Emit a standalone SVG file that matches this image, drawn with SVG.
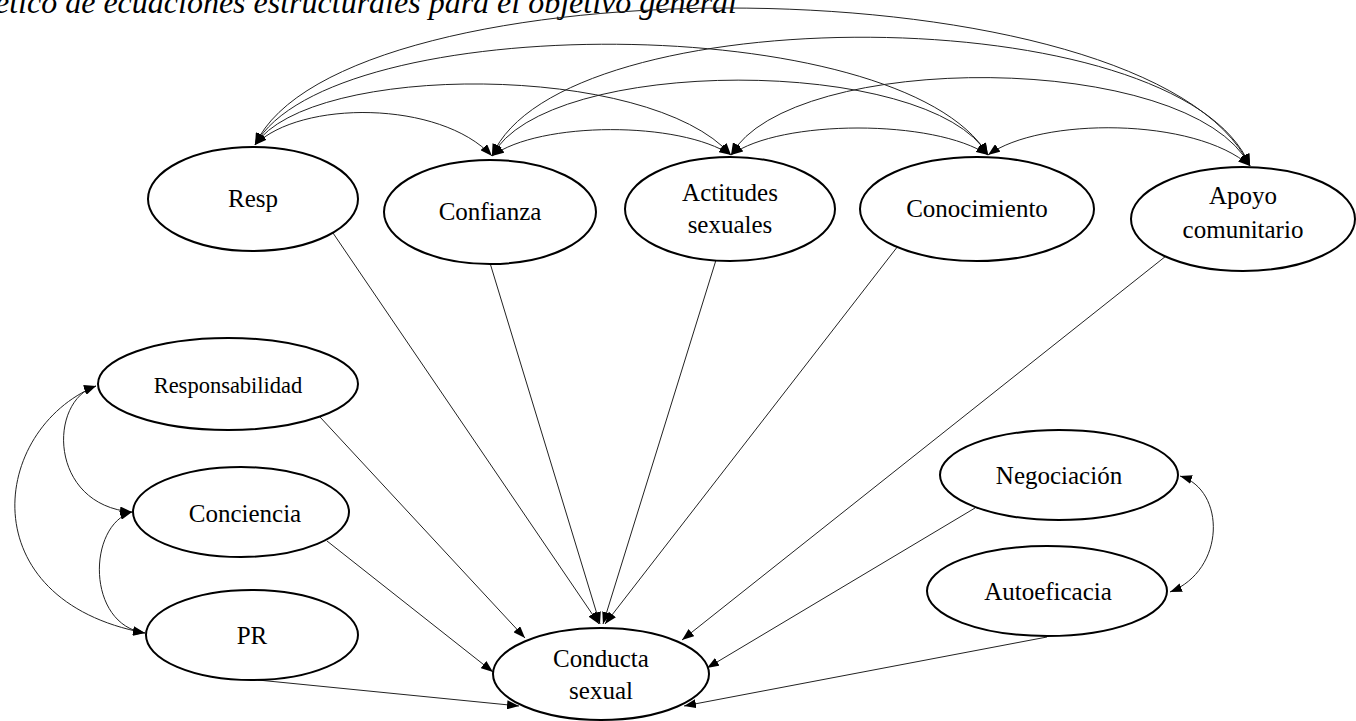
<svg xmlns="http://www.w3.org/2000/svg" width="1356" height="721" viewBox="0 0 1356 721">
  <style>
    .node ellipse { fill: #fff; stroke: #000; stroke-width: 2; }
    .lbl { font-family: "Liberation Serif", "Times New Roman", serif; font-size: 25px; text-anchor: middle; fill: #000; }
    .small { font-size: 22.5px; }
    .title { font-family: "Liberation Serif", "Times New Roman", serif; font-size: 32px; font-style: italic; fill: #000; }
    .edge { fill: none; stroke: #222; stroke-width: 1; }
    .one { marker-end: url(#ah); }
    .two { marker-start: url(#ah); marker-end: url(#ah); }
  </style>
  <defs>
    <marker id="ah" viewBox="0 0 12 9" refX="12" refY="4.5" markerWidth="12" markerHeight="9" markerUnits="userSpaceOnUse" orient="auto-start-reverse">
      <path d="M0,0 L12,4.5 L0,9 z" fill="#000"/>
    </marker>
  </defs>

  <text class="title" x="737" y="13" text-anchor="end">ético de ecuaciones estructurales para el objetivo general</text>

  <!-- connectors -->
  <g id="connectors">
    <!-- covariances between the upper latent variables -->
    <path class="edge two" d="M255,145 C300,100 440,100 492,156"/>
    <path class="edge two" d="M255,145 C310,62 650,62 731,155"/>
    <path class="edge two" d="M255,145 C330,9 900,9 988,155"/>
    <path class="edge two" d="M255,145 C340,-41 1150,-41 1250,166"/>
    <path class="edge two" d="M492,156 C540,121 680,121 731,155"/>
    <path class="edge two" d="M492,156 C545,55 930,55 988,155"/>
    <path class="edge two" d="M492,156 C560,-4 1180,-4 1250,166"/>
    <path class="edge two" d="M731,155 C780,119 935,119 988,155"/>
    <path class="edge two" d="M731,155 C790,50 1190,50 1250,166"/>
    <path class="edge two" d="M988,155 C1040,117 1195,117 1250,166"/>
    <!-- covariances on the left block -->
    <path class="edge two" d="M96,386 C48,400 48,505 132,512"/>
    <path class="edge two" d="M96,386 C-10,430 -30,600 145,633"/>
    <path class="edge two" d="M132,512 C87,525 86,625 145,633"/>
    <!-- covariance on the right block -->
    <path class="edge two" d="M1180,476 C1226,490 1226,570 1170,592"/>
    <!-- paths into Conducta sexual -->
    <path class="edge one" d="M333,233 L599,624"/>
    <path class="edge one" d="M490,263 L600,624"/>
    <path class="edge one" d="M716,260 L603,624"/>
    <path class="edge one" d="M898,246 L605,624"/>
    <path class="edge one" d="M1166,256 L682,640"/>
    <path class="edge one" d="M320,417 L525,638"/>
    <path class="edge one" d="M327,541 L493,672"/>
    <path class="edge one" d="M258,680 L519,706"/>
    <path class="edge one" d="M975,508 L707,668"/>
    <path class="edge one" d="M1047,637 L684,706"/>
  </g>

  <g id="resp" class="node">
    <ellipse cx="253" cy="199" rx="105" ry="52"/>
    <text class="lbl" x="253" y="207">Resp</text>
  </g>
  <g id="confianza" class="node">
    <ellipse cx="490" cy="212" rx="106" ry="52"/>
    <text class="lbl" x="490" y="220">Confianza</text>
  </g>
  <g id="actitudes" class="node">
    <ellipse cx="730" cy="209" rx="105" ry="52"/>
    <text class="lbl" x="730" y="201">Actitudes</text>
    <text class="lbl" x="730" y="233">sexuales</text>
  </g>
  <g id="conocimiento" class="node">
    <ellipse cx="977" cy="209" rx="117" ry="52"/>
    <text class="lbl" x="977" y="217">Conocimiento</text>
  </g>
  <g id="apoyo" class="node">
    <ellipse cx="1243" cy="219" rx="112" ry="52"/>
    <text class="lbl" x="1243" y="204">Apoyo</text>
    <text class="lbl" x="1243" y="238">comunitario</text>
  </g>
  <g id="responsabilidad" class="node">
    <ellipse cx="228" cy="384" rx="130" ry="46"/>
    <text class="lbl small" x="228" y="393">Responsabilidad</text>
  </g>
  <g id="conciencia" class="node">
    <ellipse cx="241" cy="512" rx="108" ry="45"/>
    <text class="lbl" x="245" y="522">Conciencia</text>
  </g>
  <g id="pr" class="node">
    <ellipse cx="252" cy="635" rx="106" ry="45"/>
    <text class="lbl" x="252" y="644">PR</text>
  </g>
  <g id="negociacion" class="node">
    <ellipse cx="1059" cy="475" rx="119" ry="45"/>
    <text class="lbl" x="1059" y="484">Negociación</text>
  </g>
  <g id="autoeficacia" class="node">
    <ellipse cx="1047" cy="591" rx="120" ry="45"/>
    <text class="lbl" x="1048" y="600">Autoeficacia</text>
  </g>
  <g id="conducta" class="node">
    <ellipse cx="601" cy="674" rx="108" ry="46"/>
    <text class="lbl" x="601" y="667">Conducta</text>
    <text class="lbl" x="601" y="699">sexual</text>
  </g>
</svg>
